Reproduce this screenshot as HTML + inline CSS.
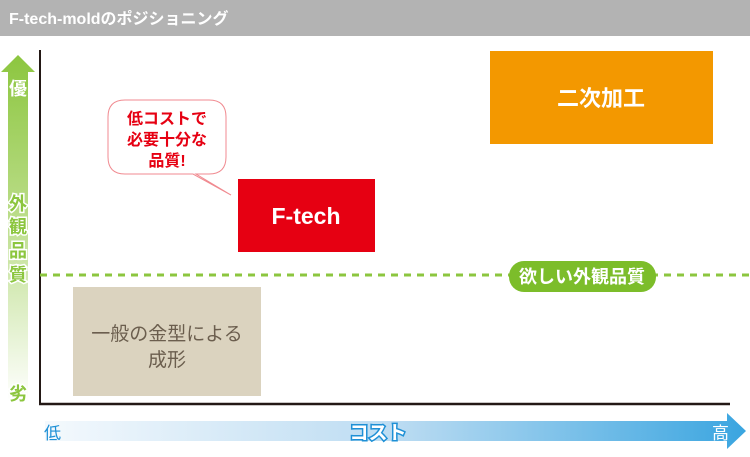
<!DOCTYPE html>
<html><head><meta charset="utf-8"><style>
html,body{margin:0;padding:0;background:#fff;}
svg{display:block;}
text{font-family:"Liberation Sans","Noto Sans CJK JP",sans-serif;}
</style></head><body>
<svg width="750" height="457" viewBox="0 0 750 457" xmlns="http://www.w3.org/2000/svg">
<defs>
<linearGradient id="g" x1="0" y1="0" x2="0" y2="1">
<stop offset="0" stop-color="#8cc63f"/><stop offset="0.45" stop-color="#b9dc86"/><stop offset="1" stop-color="#ffffff"/>
</linearGradient>
<linearGradient id="b" x1="0" y1="0" x2="1" y2="0">
<stop offset="0" stop-color="#f4f9fd"/><stop offset="0.5" stop-color="#bcdcf2"/><stop offset="1" stop-color="#3aa5e0"/>
</linearGradient>
</defs>
<rect x="0" y="0" width="750" height="36" fill="#b3b3b3"/>
<text x="9" y="24" font-size="16" font-weight="bold" fill="#fff">F-tech-moldのポジショニング</text>
<polygon points="18,55 35,72 28,72 28,402 8,402 8,72 1,72" fill="url(#g)"/>
<g font-size="18" font-weight="bold" text-anchor="middle" fill="#8cc63f" stroke="#fff" stroke-width="3" paint-order="stroke">
<text x="18" y="95" fill="#fff" stroke="none">優</text>
<text x="18" y="210">外</text>
<text x="18" y="233">観</text>
<text x="18" y="257">品</text>
<text x="18" y="281">質</text>
<text x="18" y="400">劣</text>
</g>
<line x1="40" y1="50" x2="40" y2="405" stroke="#231815" stroke-width="2"/>
<line x1="39" y1="404" x2="730" y2="404" stroke="#231815" stroke-width="2.5"/>
<polygon points="45,421 727,421 727,413 746,431 727,449 727,441 45,441" fill="url(#b)"/>
<text x="44" y="439" font-size="17" fill="#1e90d6">低</text>
<text x="378" y="439" font-size="19" font-weight="bold" text-anchor="middle" fill="#fff" stroke="#1e90d6" stroke-width="3" paint-order="stroke">コスト</text>
<text x="712" y="439" font-size="17" fill="#fff">高</text>
<rect x="490" y="51" width="223" height="93" fill="#f39800"/>
<text x="601" y="106" font-size="22" font-weight="bold" fill="#fff" text-anchor="middle">二次加工</text>
<rect x="238" y="179" width="137" height="73" fill="#e60012"/>
<text x="306" y="224" font-size="23" font-weight="bold" fill="#fff" text-anchor="middle">F-tech</text>
<rect x="73" y="287" width="188" height="109" fill="#dbd3bf"/>
<text x="167" y="340" font-size="19" fill="#6b5e4e" text-anchor="middle">一般の金型による</text>
<text x="167" y="366" font-size="19" fill="#6b5e4e" text-anchor="middle">成形</text>
<line x1="40" y1="275" x2="750" y2="275" stroke="#8cc63f" stroke-width="3" stroke-dasharray="7,6"/>
<rect x="509" y="261" width="147" height="31" rx="15" fill="#7cbd2a"/>
<text x="582" y="283" font-size="18" font-weight="bold" fill="#fff" text-anchor="middle">欲しい外観品質</text>
<path d="M125,100 H209 Q226,100 226,117 V157 Q226,174 209,174 H196 L231,195 L193,174 H125 Q108,174 108,157 V117 Q108,100 125,100 Z" fill="#fff" stroke="#f08a90" stroke-width="1"/>
<g font-size="16" font-weight="bold" fill="#e60012" text-anchor="middle">
<text x="167" y="124">低コストで</text>
<text x="167" y="145">必要十分な</text>
<text x="167" y="166">品質!</text>
</g>
</svg>
</body></html>
